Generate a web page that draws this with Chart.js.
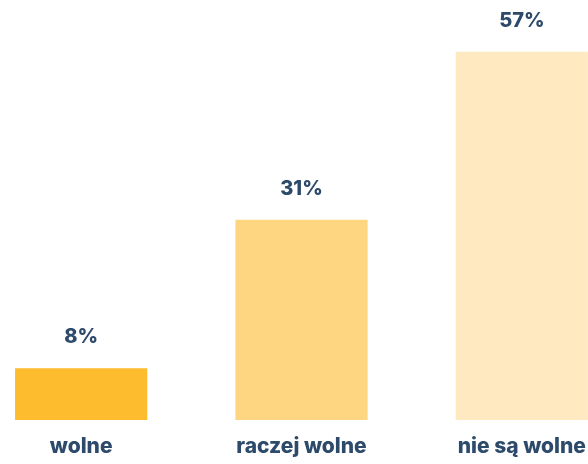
<!DOCTYPE html>
<html>
<head>
<meta charset="utf-8">
<script src="https://cdn.jsdelivr.net/npm/chart.js@4"></script>
<style>
    html, body { margin: 0; padding: 0; background: #fff; overflow: hidden; }
    body { width: 588px; height: 464px; position: relative; }
    #wrap { position: absolute; left: -29px; top: 0; width: 661px; height: 464px; }
</style>
</head>
<body>
<div id="wrap"><canvas id="chart"></canvas></div>
<script>
// data
const categories = ["wolne", "raczej wolne", "nie są wolne"];
const values = [8, 31, 57];
const barColors = ["#fdbc2e", "#fed580", "#fee9c0"];

const TEXT_COLOR = "#2d4a6b";
const FONT = "Inter, 'DejaVu Sans', sans-serif";

// percent labels above each bar
const valueLabels = {
    id: "valueLabels",
    afterDatasetsDraw(chart) {
        const ctx = chart.ctx;
        const meta = chart.getDatasetMeta(0);
        ctx.save();
        ctx.fillStyle = TEXT_COLOR;
        ctx.font = "800 20px " + FONT;
        ctx.textAlign = "center";
        ctx.textBaseline = "alphabetic";
        meta.data.forEach((bar, i) => {
            ctx.fillText(values[i] + "%", bar.x, bar.y - 25);
        });
        ctx.restore();
    }
};

const ctx = document.getElementById("chart").getContext("2d");
new Chart(ctx, {
    type: "bar",
    data: {
        labels: categories,
        datasets: [{
            data: values,
            backgroundColor: barColors,
            borderWidth: 0,
            categoryPercentage: 1,
            barPercentage: 0.6,
        }],
    },
    options: {
        responsive: true,
        maintainAspectRatio: false,
        animation: false,
        layout: { padding: 0 },
        plugins: {
            legend: { display: false },
            tooltip: { enabled: false },
        },
        scales: {
            x: {
                grid: { display: false },
                border: { display: false },
                ticks: {
                    color: TEXT_COLOR,
                    font: { family: FONT, size: 21, weight: "800" },
                    padding: 6,
                    maxRotation: 0,
                },
                afterFit(scale) { scale.height = 44; },
            },
            y: {
                display: false,
                min: 0,
                max: 65,
            },
        },
    },
    plugins: [valueLabels],
});
</script>
</body>
</html>
